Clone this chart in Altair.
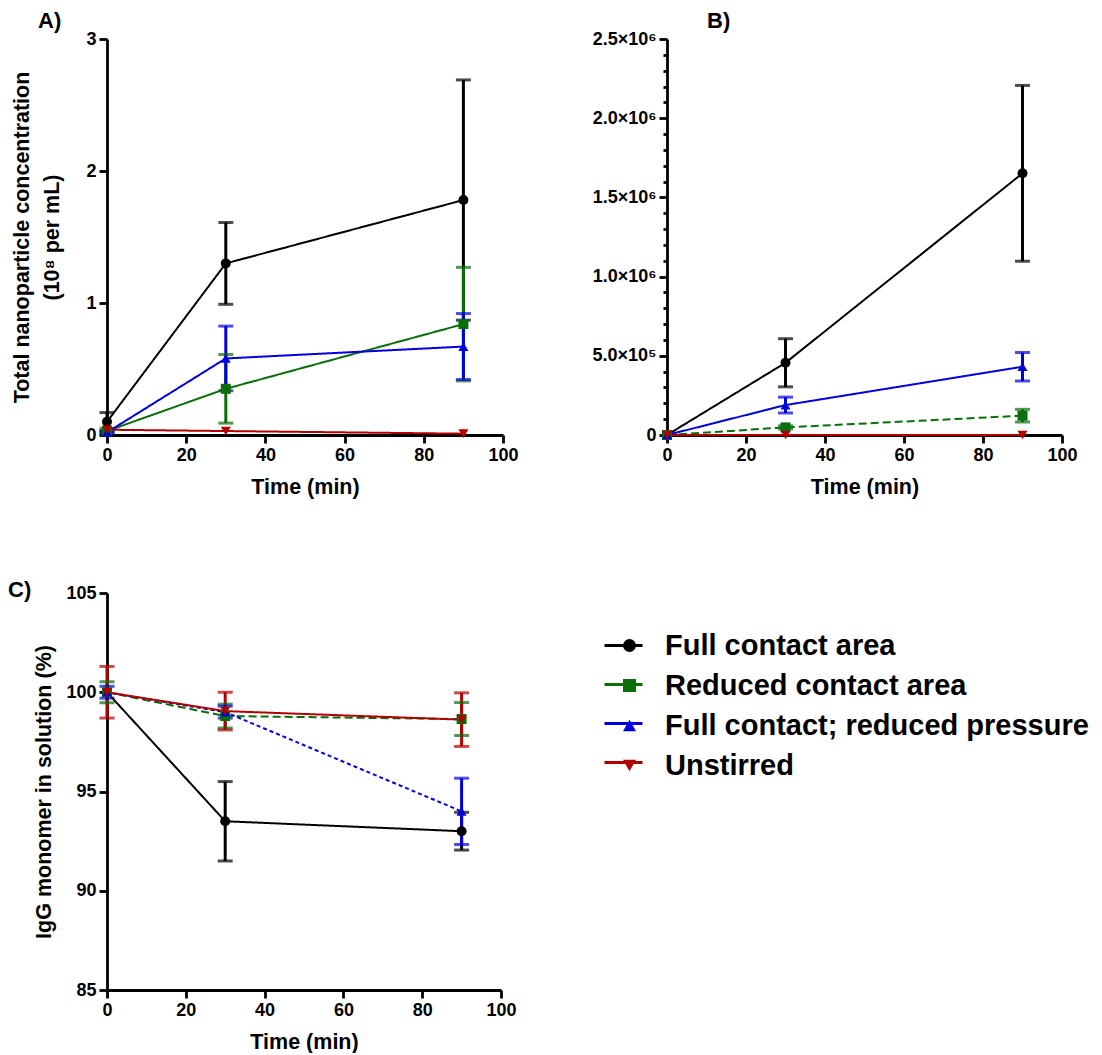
import altair as alt
import pandas as pd

time = [0, 30, 90]
series = ["Full contact area", "Reduced contact area",
          "Full contact; reduced pressure", "Unstirred"]
colors = ["#000000", "#0a6e0a", "#0000dd", "#b00000"]
shapes = ["circle", "square", "triangle-up", "triangle-down"]

# Panel A (10^8 per mL)
a_full = [0.10, 1.30, 1.78]
a_full_err = [0.07, 0.31, 0.91]
a_reduced = [0.03, 0.35, 0.84]
a_reduced_err = [0.02, 0.26, 0.43]
a_press = [0.02, 0.58, 0.67]
a_press_err = [0.01, 0.245, 0.25]
a_unstirred = [0.04, 0.03, 0.01]
a_unstirred_err = [0.0, 0.0, 0.0]

# Panel B
b_full = [0, 456000, 1652000]
b_full_err = [0, 152000, 555000]
b_reduced = [0, 48000, 122000]
b_reduced_err = [0, 10000, 40000]
b_press = [0, 189000, 431000]
b_press_err = [0, 50000, 90000]
b_unstirred = [0, 0, 0]
b_unstirred_err = [0, 0, 0]

# Panel C (%)
c_full = [100.0, 93.5, 93.0]
c_full_err = [0.0, 2.0, 0.95]
c_reduced = [100.0, 98.8, 98.65]
c_reduced_err = [0.53, 0.6, 0.83]
c_press = [100.0, 99.0, 94.0]
c_press_err = [0.3, 0.3, 1.67]
c_unstirred = [100.0, 99.05, 98.62]
c_unstirred_err = [1.3, 0.95, 1.35]

dash_a = ["solid", "solid", "solid", "solid"]
dash_b = ["solid", "dashed", "solid", "solid"]
dash_c = ["solid", "dashed", "dotted", "solid"]

FONT = "Liberation Sans"
line_keys = [s + " " for s in series]   # separate domain so the line legend stays apart


def frame(vals, errs, dashes):
    rows = []
    for s, k, v, e, d in zip(series, line_keys, vals, errs, dashes):
        for t, vv, ee in zip(time, v, e):
            rows.append({"series": s, "line_key": k, "time": t, "value": vv,
                         "err": ee, "lo": vv - ee, "hi": vv + ee, "dash": d})
    return pd.DataFrame(rows)


df_a = frame([a_full, a_reduced, a_press, a_unstirred],
             [a_full_err, a_reduced_err, a_press_err, a_unstirred_err], dash_a)
df_b = frame([b_full, b_reduced, b_press, b_unstirred],
             [b_full_err, b_reduced_err, b_press_err, b_unstirred_err], dash_b)
df_c = frame([c_full, c_reduced, c_press, c_unstirred],
             [c_full_err, c_reduced_err, c_press_err, c_unstirred_err], dash_c)

cscale = alt.Scale(domain=series, range=colors)
lscale = alt.Scale(domain=line_keys, range=colors)
shscale = alt.Scale(domain=series, range=shapes)
dscale = alt.Scale(domain=["solid", "dashed", "dotted"],
                   range=[[1, 0], [8, 4], [4, 3]])

# line part of the legend (no labels), drawn under the marker legend
stroke_legend = alt.Legend(orient="none", legendX=496, legendY=586, title=None,
                           symbolType="stroke", symbolSize=1444,
                           symbolStrokeWidth=3, labelExpr="''",
                           labelFontSize=24, labelFont=FONT, labelFontWeight="bold",
                           rowPadding=6, padding=0)
fill_legend = alt.Legend(orient="none", legendX=508, legendY=592, title=None,
                         symbolSize=170, symbolStrokeWidth=0, symbolOpacity=1,
                         labelFontSize=29, labelFont=FONT, labelFontWeight="bold",
                         labelColor="black", labelOffset=21, rowPadding=10,
                         padding=0, labelLimit=700)


def panel(df, ydomain, yaxis, title, dx, dy, w, h):
    base = alt.Chart(df)
    xaxis = alt.Axis(values=[0, 20, 40, 60, 80, 100], title="Time (min)")
    xs = alt.Scale(domain=[0, 100], nice=False)
    ys = alt.Scale(domain=ydomain, nice=False, zero=False)
    x = alt.X("time:Q", scale=xs, axis=xaxis)

    def Y(f):
        return alt.Y(f, scale=ys, axis=yaxis)

    errs = base.transform_filter("datum.err > 0")
    rule = errs.mark_rule(strokeWidth=3).encode(
        x=x, y=Y("lo:Q"), y2="hi:Q",
        stroke=alt.Stroke("line_key:N", scale=lscale, legend=stroke_legend))
    cap_lo = errs.mark_tick(orient="horizontal", size=15, thickness=3).encode(
        x=x, y=Y("lo:Q"),
        fill=alt.Fill("series:N", scale=cscale, legend=fill_legend))
    cap_hi = errs.mark_tick(orient="horizontal", size=15, thickness=3).encode(
        x=x, y=Y("hi:Q"),
        fill=alt.Fill("series:N", scale=cscale, legend=fill_legend))
    line = base.mark_line(strokeWidth=2).encode(
        x=x, y=Y("value:Q"),
        stroke=alt.Stroke("line_key:N", scale=lscale, legend=stroke_legend),
        strokeDash=alt.StrokeDash("dash:N", scale=dscale, legend=None),
        detail="series:N")
    pts = base.mark_point(filled=True, opacity=1, strokeWidth=0, size=100).encode(
        x=x, y=Y("value:Q"),
        fill=alt.Fill("series:N", scale=cscale, legend=fill_legend),
        shape=alt.Shape("series:N", scale=shscale, legend=fill_legend))
    return alt.layer(rule, cap_lo, cap_hi, line, pts).properties(
        width=w, height=h,
        title=alt.TitleParams(title, anchor="start", frame="group", dx=dx, dy=dy,
                              offset=-3, fontSize=22, font=FONT,
                              fontWeight="bold", color="black"))


axis_a = alt.Axis(values=[0, 1, 2, 3], format="d",
                  title=["Total nanoparticle concentration", "(10⁸ per mL)"],
                  titlePadding=22, titleLineHeight=30)
axis_b = alt.Axis(values=[i * 100000 for i in range(26)], title=None,
                  labelExpr="datum.value == 0 ? '0' : (datum.value % 500000 != 0 ? '' : (datum.value >= 1000000 ? format(datum.value/1000000, '.1f') + '×10⁶' : format(datum.value/100000, '.1f') + '×10⁵'))",
                  tickSize={"condition": {"test": "datum.value % 500000 === 0", "value": 8}, "value": 4})
axis_c = alt.Axis(values=[85, 90, 95, 100, 105], title="IgG monomer in solution (%)",
                  titlePadding=10)

pa = panel(df_a, [0, 3], axis_a, "A)", -69, 0, 396, 396)
pb = panel(df_b, [0, 2500000], axis_b, "B)", 40, 0, 395, 396)
pc = panel(df_c, [85, 105], axis_c, "C)", -99, 15, 394, 397)

chart = alt.vconcat(
    alt.hconcat(pa, pb, spacing=72),
    pc,
    spacing=81,
).properties(padding={"left": 0, "top": 2, "right": 0, "bottom": 0}).configure_view(
    stroke=None
).configure_axis(
    grid=False, domainColor="black", domainWidth=2.8, tickColor="black",
    tickWidth=2.8, tickSize=8, labelFont=FONT, labelFontWeight="bold",
    labelFontSize=18, labelColor="black", titleFont=FONT, titleFontWeight="bold",
    titleFontSize=21.5, titleColor="black", labelPadding=3,
    labelFlush=False, labelOverlap=False
).configure_axisX(titlePadding=12)

chart.save("out.html", embed_options={"renderer": "svg", "actions": False})
